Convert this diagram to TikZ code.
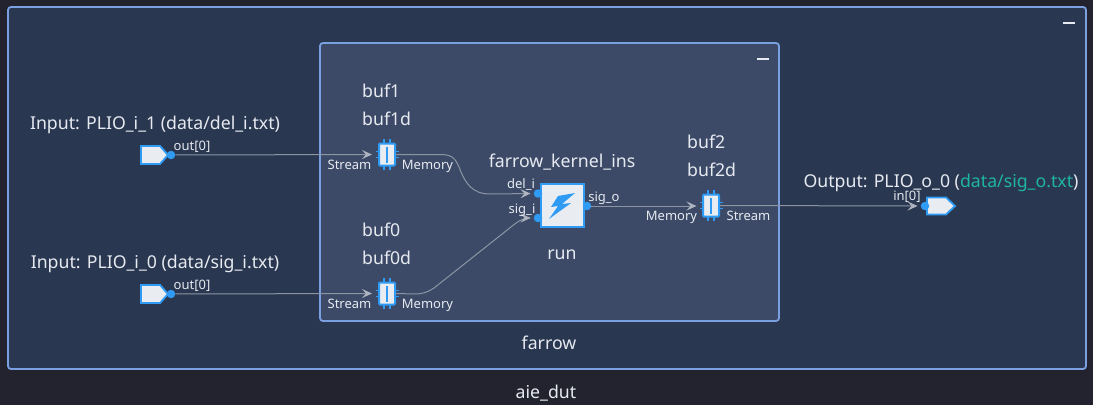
\documentclass[tikz,border=0pt]{standalone}
\usepackage{fontspec}
\setmainfont{Noto Sans}
\usetikzlibrary{arrows.meta,shapes.geometric}
\definecolor{pagebg}{HTML}{22232E}
\definecolor{outerbg}{HTML}{2A3750}
\definecolor{innerbg}{HTML}{3C4A67}
\definecolor{frameblue}{HTML}{7BA0E2}
\definecolor{iconblue}{HTML}{2F9BF5}
\definecolor{iconfill}{HTML}{E9EDF2}
\definecolor{wirecol}{HTML}{8D95A5}
\definecolor{textcol}{HTML}{E6EAF0}
\definecolor{tealtxt}{HTML}{1FB5A0}
\tikzset{
  bigtxt/.style={text=textcol,inner sep=0pt,text height=15pt,text depth=2pt,font=\fontsize{17.7}{20}\selectfont},
  smalltxt/.style={text=textcol,inner sep=0pt,text height=11pt,text depth=2pt,font=\fontsize{13}{15}\selectfont},
  groupbox/.style={draw=frameblue,line width=1.8pt,rounded corners=3pt},
  bufbox/.style={draw=iconblue,fill=iconfill,line width=2pt,minimum width=16pt,minimum height=22pt,inner sep=0pt,rounded corners=1pt},
  portdot/.style={circle,fill=iconblue,minimum size=8.5pt,inner sep=0pt},
  plioshape/.style={draw=iconblue,fill=iconfill,line width=1.8pt,line join=miter},
  wire/.style={draw=wirecol,line width=1pt,shorten >=3pt,-{Stealth[length=10pt,width=9pt,inset=4pt,color=wirecol!70!white]}},
  collapsebar/.style={draw=textcol,line width=1.8pt},
}
\begin{document}
\begin{tikzpicture}[x=1pt,y=-1pt]
  \useasboundingbox [fill=pagebg] (0,0) rectangle (1093,405);
  % groups
  \draw [groupbox,fill=outerbg] (8,7) rectangle (1086,369);
  \draw [groupbox,fill=innerbg] (320,43) rectangle (779,321);
  \draw [collapsebar] (1063,23) -- (1075,23);
  \draw [collapsebar] (757,59) -- (769,59);
  % plio shapes
  \draw [plioshape] (141,146) -- (160,146) -- (168,155) -- (160,164) -- (141,164) -- cycle;
  \draw [plioshape] (141,285) -- (160,285) -- (168,294) -- (160,303) -- (141,303) -- cycle;
  \draw [plioshape] (927,197.5) -- (946,197.5) -- (955,206) -- (946,214.5) -- (927,214.5) -- cycle;
  \node [portdot] (plio1out) at (171,155) {};
  \node [portdot] (plio0out) at (171,294) {};
  \node [portdot] (plio2in) at (925,206) {};
  % buffers
  \foreach \bname/\bx/\by in {buf1/387/154.5,buf0/387/293.5,buf2/711/205.5} {
    \draw [iconblue,line width=1.4pt] (\bx-3,\by-15.5) -- (\bx-3,\by+15.5) (\bx+3,\by-15.5) -- (\bx+3,\by+15.5)
      (\bx-11.5,\by-3) -- (\bx+11.5,\by-3) (\bx-11.5,\by+3) -- (\bx+11.5,\by+3);
    \node [bufbox] (\bname) at (\bx,\by) {};
    \draw [iconblue,line width=2pt] (\bx,\by-8) -- (\bx,\by+8);
  }
  % kernel
  \node [draw=iconblue,fill=iconfill,line width=2pt,minimum size=43pt,inner sep=0pt] (kernel) at (562.5,205.5) {};
  \fill [iconblue] (575,193) -- (558,196) -- (551,207) -- (558,206) -- (549,219) -- (571,203) -- (562,204) -- cycle;
  \node [portdot] (delport) at (538,193.5) {};
  \node [portdot] (sigiport) at (538,218) {};
  \node [portdot] (sigoport) at (587,206) {};
  % connectors
  \draw [wire] (plio1out) -- (375,154.5);
  \draw [wire] (plio0out) -- (375,293.5);
  \draw [wire] (buf1.east) -- (440,154.5) .. controls (452,154.5) and (455,158) .. (459,167)
    .. controls (465,183) and (472,194) .. (490,194) -- (delport.west);
  \draw [wire] (buf0.east) -- (415,294) .. controls (423,294) and (428,292) .. (434,288)
    -- (516,223) .. controls (521,219.5) and (525,218) .. (530,218) -- (sigiport.west);
  \draw [wire] (sigoport) -- (699.5,206);
  \draw [wire] (buf2.east) -- (plio2in.west);
  % big labels
  \node [bigtxt] (plio1lbl) at (155,123) {Input: PLIO\_i\_1 (data/del\_i.txt)};
  \node [bigtxt] (plio0lbl) at (155,262) {Input: PLIO\_i\_0 (data/sig\_i.txt)};
  \node [bigtxt] (plio2lbl) at (941,181) {Output: PLIO\_o\_0 ({\color{tealtxt}data/sig\_o.txt})};
  \node [bigtxt,anchor=west] (buf1lbl) at (362,91) {buf1};
  \node [bigtxt,anchor=west] (buf1dlbl) at (362,119) {buf1d};
  \node [bigtxt,anchor=west] (buf0lbl) at (362,230) {buf0};
  \node [bigtxt,anchor=west] (buf0dlbl) at (362,258) {buf0d};
  \node [bigtxt,anchor=west] (buf2lbl) at (687,142) {buf2};
  \node [bigtxt,anchor=west] (buf2dlbl) at (687,170) {buf2d};
  \node [bigtxt] (kernellbl) at (562,161) {farrow\_kernel\_ins};
  \node [bigtxt] (runlbl) at (562,253) {run};
  \node [bigtxt] (farrowlbl) at (549,343) {farrow};
  \node [bigtxt] (duttlbl) at (546,392) {aie\_dut};
  % small labels
  \node [smalltxt] (out1lbl) at (192,146) {out[0]};
  \node [smalltxt] (out0lbl) at (192,285) {out[0]};
  \node [smalltxt] (in2lbl) at (907,196) {in[0]};
  \node [smalltxt] (s1lbl) at (349.5,165) {Stream};
  \node [smalltxt] (m1lbl) at (427.5,165) {Memory};
  \node [smalltxt] (s0lbl) at (349.5,304) {Stream};
  \node [smalltxt] (m0lbl) at (427.5,304) {Memory};
  \node [smalltxt] (m2lbl) at (671.5,216) {Memory};
  \node [smalltxt] (s2lbl) at (748.5,216) {Stream};
  \node [smalltxt] (delilbl) at (521,184) {del\_i};
  \node [smalltxt] (sigilbl) at (522,209) {sig\_i};
  \node [smalltxt] (sigolbl) at (604,197) {sig\_o};
\end{tikzpicture}
\end{document}
